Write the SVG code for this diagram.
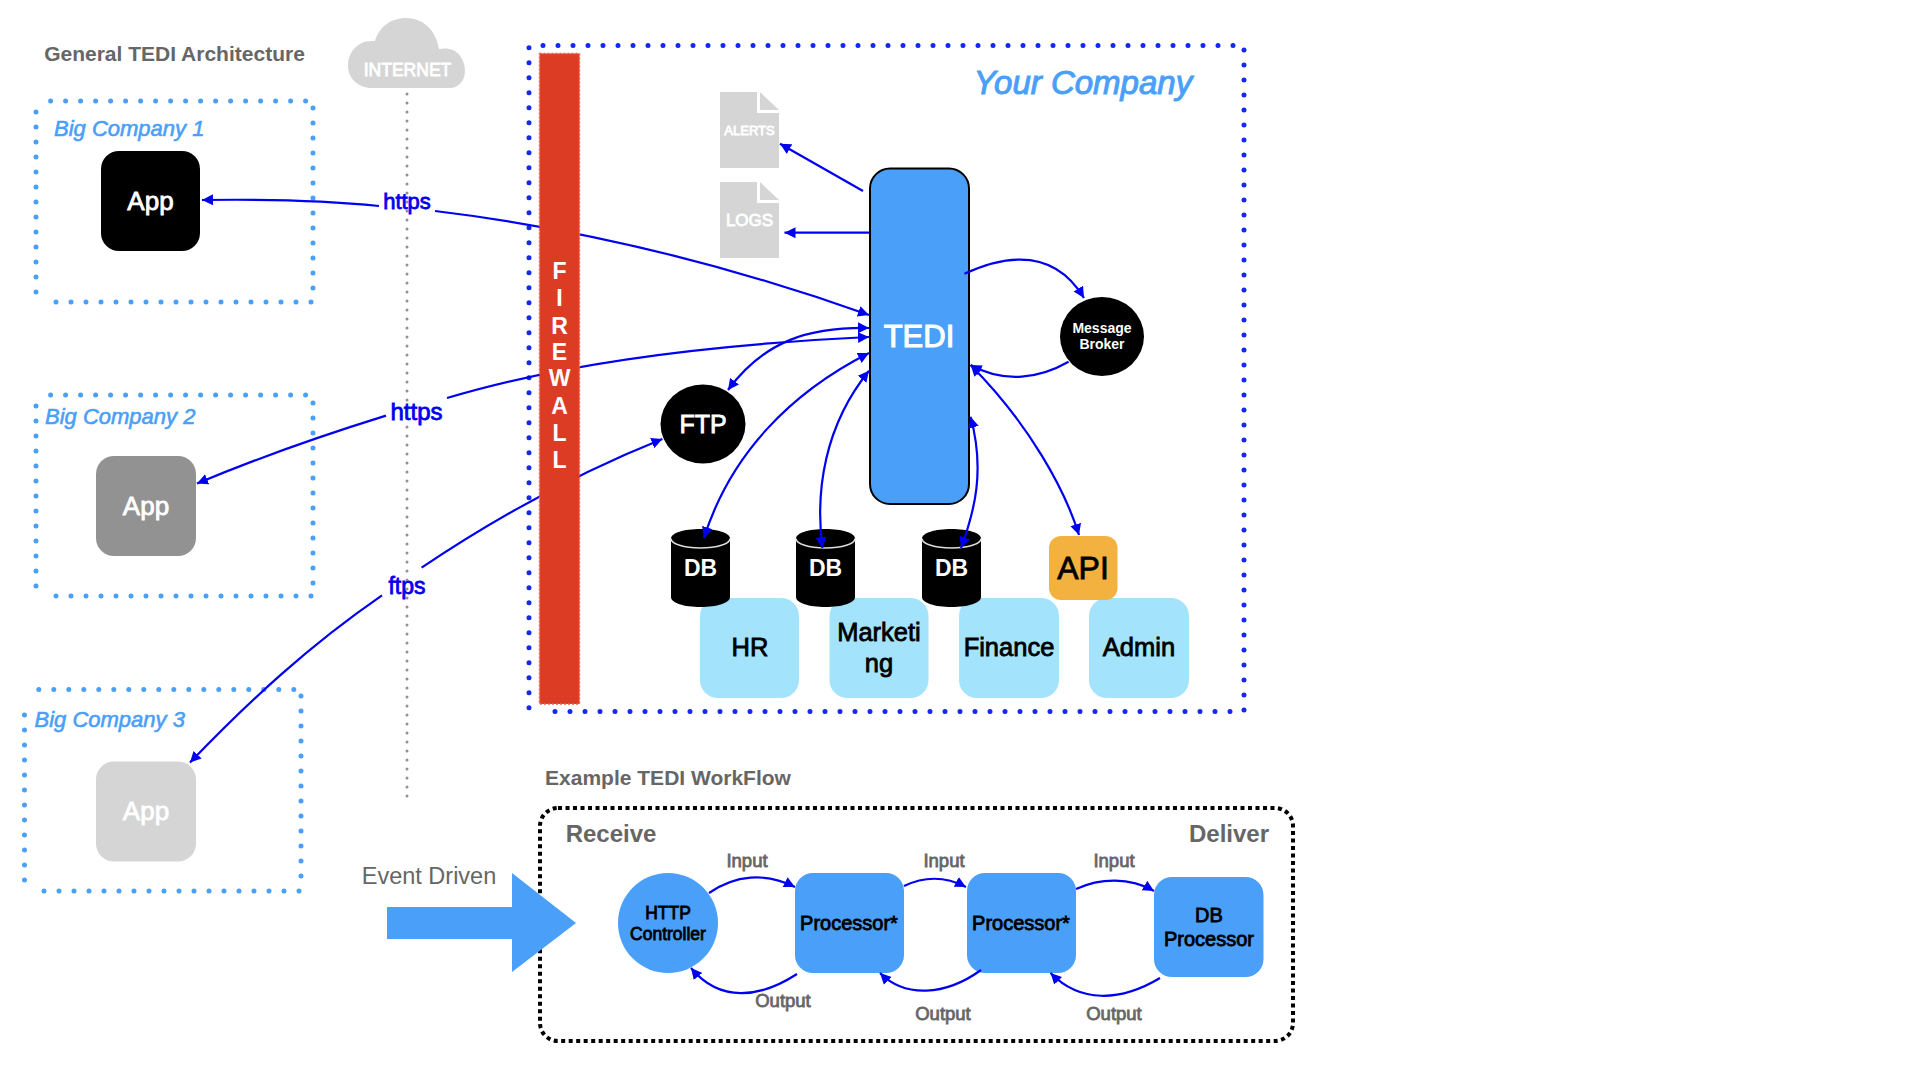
<svg xmlns="http://www.w3.org/2000/svg" width="1920" height="1080" viewBox="0 0 1920 1080">
<style>
text{font-family:"Liberation Sans",Arial,sans-serif;text-anchor:middle}
.b{font-weight:700}
.m{stroke-width:.8;paint-order:stroke}
.h{fill:#666;font-weight:700}
.co{fill:#4a9ff8;stroke:#4a9ff8;stroke-width:.6;paint-order:stroke;font-style:italic;font-size:22px;text-anchor:start}
.dotL{fill:none;stroke:#4a9ff8;stroke-width:5;stroke-linecap:round;stroke-dasharray:0 15}
.dotB{fill:none;stroke:#1428f0;stroke-width:5;stroke-linecap:round;stroke-dasharray:0 15}
.app{font-size:26px;fill:#fff;stroke:#fff}
.dep{fill:#a3e4fc}
.dept{font-size:25.500px;fill:#000;stroke:#000}
.wh{fill:#4a9ff8}
.wt{font-size:20px;fill:#000;stroke:#000}
.io{font-size:18.500px;fill:#666;stroke:#666}
.c{fill:none;stroke:#0000f0;stroke-width:2.2}
.e{marker-end:url(#ah)}
.s{marker-start:url(#ah)}
.lab{fill:#0000f0;stroke:#0000f0}
.dbt{font-size:23px;fill:#fff;font-weight:700}
.fw{font-size:23px;fill:#fff;font-weight:700}
</style>
<defs>
<marker id="ah" markerUnits="userSpaceOnUse" markerWidth="14" markerHeight="12" refX="11" refY="5.500" orient="auto-start-reverse" viewBox="0 0 14 11">
<path d="M0,0 L11,5.500 L0,11 Z" fill="#0000f0"/>
</marker>
<g id="db">
<path d="M0,9.500 V68 C0,74 13,78 29.500,78 C46,78 59,74 59,68 V9.500 C59,4 46,0 29.500,0 C13,0 0,4 0,9.500 Z" fill="#000"/>
<path d="M0,9.500 C0,15 13,19 29.500,19 C46,19 59,15 59,9.500" fill="none" stroke="#ddd" stroke-width="1.600"/>
</g>
</defs>
<rect width="1920" height="1080" fill="#fff"/>

<text id="title-main" class="h" x="174.500" y="61" font-size="21">General TEDI Architecture</text>

<g id="internet">
<path d="M372,88 C358,88 348,78 348,66 C348,52 358,41 371,41 L375,41 C379,27 391,18 406,18 C423,18 436,30 439,49 C443,49 445,48 449,49 C458,50 465,60 465,71 C465,81 458,88 450,88 Z" fill="#d5d5d5"/>
<text x="407.500" y="76" font-size="17.500" fill="#fff" stroke="#fff" class="m">INTERNET</text>
</g>

<g id="company1">
<path class="dotL" d="M50.600,101 H306 M313,108 V289 M311,302 H41 M36,292 V111"/>
<text class="co" x="54" y="136">Big Company 1</text>
<rect x="101" y="151" width="99" height="100" rx="18" fill="#000"/>
<text class="app m" x="150.500" y="210">App</text>
</g>
<g id="company2">
<path class="dotL" d="M50.600,395 H306 M313,403 V584 M311,596 H41 M36,586 V405"/>
<text class="co" x="45" y="423.500">Big Company 2</text>
<rect x="96" y="456" width="100" height="100" rx="18" fill="#929292"/>
<text class="app m" x="146" y="515">App</text>
</g>
<g id="company3">
<path class="dotL" d="M38.800,689.600 H295 M301,696 V878 M299,891 H29 M24.500,880 V700"/>
<text class="co" x="34.500" y="727">Big Company 3</text>
<rect x="96" y="761.500" width="100" height="100" rx="18" fill="#d5d5d5"/>
<text class="app m" x="146" y="820">App</text>
</g>

<g id="your-company">
<path class="dotB" d="M543,45.500 H1234 M1244,50 V711 M1230,711.500 H540 M529,47.700 V708"/>
<text x="1083" y="94" font-size="33" font-style="italic" fill="#4a9ff8" stroke="#4a9ff8" stroke-width="1" style="paint-order:stroke">Your Company</text>
</g>

<g id="alerts">
<path d="M720,92 H757 V113 H779 V168 H720 Z M760,92 L779,110 H760 Z" fill="#d5d5d5"/>
<text x="749.500" y="135" font-size="13" fill="#fff" stroke="#fff" class="m">ALERTS</text>
</g>
<g id="logs">
<path d="M720,182 H757 V203 H779 V258 H720 Z M760,182 L779,200 H760 Z" fill="#d5d5d5"/>
<text x="749.500" y="226" font-size="17" fill="#fff" stroke="#fff" class="m">LOGS</text>
</g>

<g id="tedi">
<rect x="870" y="168.500" width="99" height="335.500" rx="20" fill="#4a9ff8" stroke="#000" stroke-width="2"/>
<text x="919" y="347" font-size="31" fill="#fff" stroke="#fff" stroke-width="1.100" style="paint-order:stroke">TEDI</text>
</g>
<g id="broker">
<ellipse cx="1102" cy="336.500" rx="42" ry="39.500" fill="#000"/>
<text x="1102" y="333" font-size="14" fill="#fff" class="b">Message</text>
<text x="1102" y="349" font-size="14" fill="#fff" class="b">Broker</text>
</g>
<g id="ftp">
<ellipse cx="703" cy="424" rx="42.500" ry="39.500" fill="#000"/>
<text x="703" y="433" font-size="25" fill="#fff" stroke="#fff" class="m">FTP</text>
</g>

<g id="hr"><rect class="dep" x="700" y="598" width="99" height="100" rx="18"/><text class="dept m" x="750" y="656">HR</text></g>
<g id="marketing"><rect class="dep" x="829.500" y="598" width="99" height="100" rx="18"/><text class="dept m" x="879" y="641">Marketi</text><text class="dept m" x="879" y="672">ng</text></g>
<g id="finance"><rect class="dep" x="959" y="598" width="100" height="100" rx="18"/><text class="dept m" x="1009" y="656">Finance</text></g>
<g id="admin"><rect class="dep" x="1089" y="598" width="100" height="100" rx="18"/><text class="dept m" x="1139" y="656">Admin</text></g>

<g id="db1"><use href="#db" x="671" y="529"/><text class="dbt" x="700.500" y="576">DB</text></g>
<g id="db2"><use href="#db" x="796" y="529"/><text class="dbt" x="825.500" y="576">DB</text></g>
<g id="db3"><use href="#db" x="922" y="529"/><text class="dbt" x="951.500" y="576">DB</text></g>
<g id="api"><rect x="1049" y="536" width="68.500" height="64" rx="12" fill="#f3b13f"/><text x="1083" y="579" font-size="32" fill="#000" stroke="#000" class="m">API</text></g>

<path id="internet-line" d="M407,94 V797" fill="none" stroke="#919191" stroke-width="3" stroke-linecap="round" stroke-dasharray="0 9"/>

<text id="title-flow" class="h" x="668" y="785" font-size="21">Example TEDI WorkFlow</text>
<g id="workflow-box">
<rect x="540" y="808" width="753" height="233" rx="18" fill="none" stroke="#000" stroke-width="4" stroke-dasharray="4 3.500"/>
<text class="h" x="611" y="842" font-size="24">Receive</text>
<text class="h" x="1229" y="842" font-size="24">Deliver</text>
</g>
<g id="event">
<text x="429" y="884" font-size="23.500" fill="#666">Event Driven</text>
<path d="M387,907 H512 V873 L576,923 L512,972 V939 H387 Z" fill="#4a9ff8"/>
</g>
<g id="http-controller"><ellipse class="wh" cx="668" cy="923" rx="50" ry="50"/>
<text x="668" y="919" font-size="17.500" fill="#000" stroke="#000" class="m">HTTP</text><text x="668" y="940" font-size="17.500" fill="#000" stroke="#000" class="m">Controller</text></g>
<g id="processor1"><rect class="wh" x="795" y="873" width="109" height="100" rx="18"/><text class="wt m" x="849" y="930">Processor*</text></g>
<g id="processor2"><rect class="wh" x="967" y="873" width="109" height="100" rx="18"/><text class="wt m" x="1021" y="930">Processor*</text></g>
<g id="db-processor"><rect class="wh" x="1154" y="877" width="109.500" height="100" rx="18"/><text class="wt m" x="1209" y="922">DB</text><text class="wt m" x="1209" y="946">Processor</text></g>

<g id="connectors">
<path class="c s" d="M202,200 C270,199 330,201 379,206"/>
<path class="c e" d="M435,211 C560,226 700,255 869,315"/>
<path class="c s" d="M197,483.600 C260,457 330,433 386,415.600"/>
<path class="c e" d="M447,398 C560,364 700,345 869,337"/>
<path class="c s" d="M190,762.600 C250,700 310,645 382,595.400"/>
<path class="c e" d="M421.600,567.700 C500,515 580,472 662.400,439"/>
<path class="c e" d="M863,191 L780,143.700"/>
<path class="c e" d="M869,232.700 H784.500"/>
<path class="c e" d="M964.500,273.700 C1010,253 1055,250 1084,298"/>
<path class="c e" d="M1068.600,361.700 C1040,378 1005,384 970.600,365"/>
<path class="c s e" d="M869,328 C810,327 765,340 728,390"/>
<path class="c s e" d="M869,353 C790,393 730,455 704,538"/>
<path class="c s e" d="M869,370.700 C825,425 815,490 822.400,548"/>
<path class="c s e" d="M970.600,416.700 C985,470 975,510 961,548"/>
<path class="c s e" d="M970.600,365 C1030,425 1065,490 1079,535"/>
<path class="c e" d="M709,893 C735,875 765,872 795,887"/>
<path class="c e" d="M904,886 C925,876 945,876 966,887"/>
<path class="c e" d="M1076,889 C1100,878 1130,877 1154,891"/>
<path class="c e" d="M797,974 C760,998 720,1003 691,968"/>
<path class="c e" d="M981,970 C945,996 905,998 880,973"/>
<path class="c e" d="M1160,978 C1120,1002 1080,1003 1050.500,973"/>
</g>

<g id="firewall">
<rect x="539.500" y="53.500" width="40" height="650.500" fill="#dc3c24" stroke="#f0604c" stroke-width="1.500" stroke-dasharray="2 2"/>
<text class="fw" x="559.500" y="279">F</text>
<text class="fw" x="559.500" y="306">I</text>
<text class="fw" x="559.500" y="334">R</text>
<text class="fw" x="559.500" y="360">E</text>
<text class="fw" x="559.500" y="386">W</text>
<text class="fw" x="559.500" y="414">A</text>
<text class="fw" x="559.500" y="441">L</text>
<text class="fw" x="559.500" y="468">L</text>
</g>

<g id="connector-labels">
<text class="lab m" x="407" y="209" font-size="22">https</text>
<text class="lab m" x="416.500" y="419.500" font-size="24">https</text>
<text class="lab m" x="407" y="593.500" font-size="23">ftps</text>
<text class="io m" x="747" y="867">Input</text>
<text class="io m" x="944" y="867">Input</text>
<text class="io m" x="1114" y="867">Input</text>
<text class="io m" x="783" y="1007">Output</text>
<text class="io m" x="943" y="1020">Output</text>
<text class="io m" x="1114" y="1020">Output</text>
</g>
</svg>
